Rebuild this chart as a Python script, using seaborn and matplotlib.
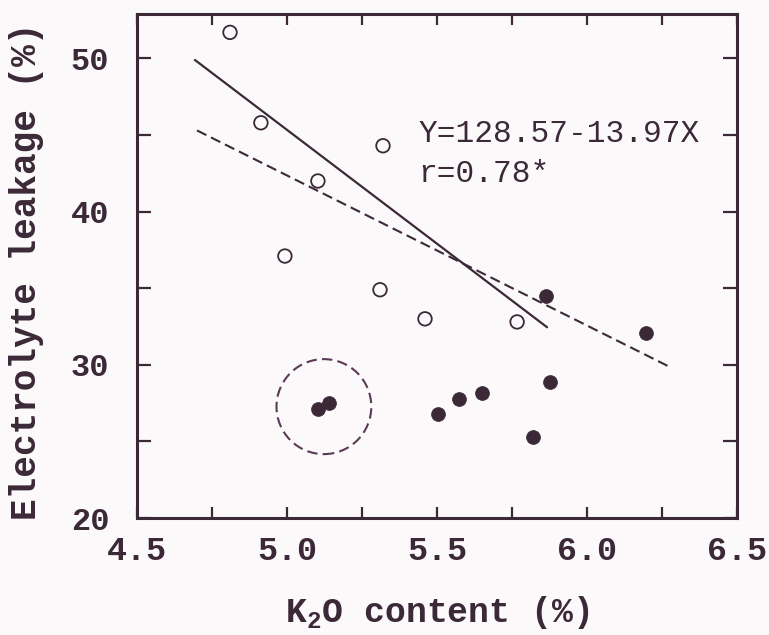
import numpy as np
import pandas as pd
import seaborn as sns
import matplotlib.pyplot as plt
from matplotlib.patches import Ellipse
from matplotlib.ticker import MultipleLocator

# --- veri ---
open_k2o = [4.81, 4.913, 5.103, 5.32, 4.993, 5.31, 5.46, 5.767]
open_leak = [51.7, 45.8, 42.0, 44.3, 37.1, 34.9, 33.0, 32.8]

filled_k2o = [5.863, 6.197, 5.877, 5.65, 5.573, 5.503, 5.82, 5.103, 5.14]
filled_leak = [34.5, 32.1, 28.9, 28.15, 27.75, 26.8, 25.3, 27.1, 27.5]

# regresyon çizgilerinin uç noktaları
solid_x = [4.693, 5.867]
solid_y = [49.9, 32.45]
dashed_x = [4.70, 6.277]
dashed_y = [45.3, 29.85]

# kesikli daire: merkez ve yarıçaplar (veri biriminde)
circle_center = (5.123, 27.27)
circle_rx = 0.158
circle_ry = 3.10

equation_text = "Y=128.57-13.97X"
r_text = "r=0.78*"

ink = "#3b2937"
bg = "#fcf9fb"

sns.set_style("ticks")
plt.rcParams['font.family'] = ['Liberation Mono', 'DejaVu Sans Mono']
plt.rcParams['mathtext.fontset'] = 'custom'
plt.rcParams['mathtext.rm'] = 'Liberation Mono'
plt.rcParams['mathtext.bf'] = 'Liberation Mono:bold'
plt.rcParams['text.color'] = ink
plt.rcParams['axes.labelcolor'] = ink
plt.rcParams['xtick.color'] = ink
plt.rcParams['ytick.color'] = ink

fig = plt.figure(figsize=(7.69, 6.35), dpi=100, facecolor=bg)
ax = fig.add_axes([137 / 769, 1 - 518 / 635, 600 / 769, 504 / 635])
ax.set_facecolor(bg)

df_open = pd.DataFrame({"x": open_k2o, "y": open_leak})
df_filled = pd.DataFrame({"x": filled_k2o, "y": filled_leak})

sns.lineplot(x=solid_x, y=solid_y, ax=ax, color=ink, lw=1.6, sort=False)
sns.lineplot(x=dashed_x, y=dashed_y, ax=ax, color=ink, lw=1.5, sort=False,
             linestyle=(0, (5, 2.5)))

sns.scatterplot(data=df_open, x="x", y="y", ax=ax, s=95, marker="o",
                facecolor="none", edgecolor=ink, linewidth=1.3, zorder=3)
sns.scatterplot(data=df_filled, x="x", y="y", ax=ax, s=100, marker="o",
                color=ink, edgecolor=ink, linewidth=0.5, zorder=3)

ax.add_patch(Ellipse(circle_center, 2 * circle_rx, 2 * circle_ry, fill=False,
                     edgecolor="#5a3b55", lw=1.5, linestyle=(0, (5, 2.5))))

ax.text(5.437, 44.55, equation_text, fontsize=22.5, color=ink, va="baseline")
ax.text(5.437, 41.95, r_text, fontsize=22.5, color=ink, va="baseline")

ax.set_xlim(4.5, 6.5)
ax.set_ylim(20, 52.9)
ax.xaxis.set_major_locator(MultipleLocator(0.5))
ax.xaxis.set_minor_locator(MultipleLocator(0.25))
ax.yaxis.set_major_locator(MultipleLocator(10))
ax.yaxis.set_minor_locator(MultipleLocator(5))
ax.xaxis.set_major_formatter(plt.FormatStrFormatter("%.1f"))

for side in ax.spines.values():
    side.set_linewidth(2.2)
    side.set_color(ink)

ax.tick_params(axis="both", which="both", direction="in", top=True, right=True,
               width=1.6, color=ink)
ax.tick_params(axis="x", which="both", length=8, pad=13)
ax.tick_params(axis="y", which="both", length=10, pad=20)
for lab in ax.get_xticklabels():
    lab.set_fontsize(24)
    lab.set_fontweight("bold")
for lab in ax.get_yticklabels():
    lab.set_fontsize(23)
    lab.set_fontweight("bold")

ax.set_xlabel("K$_\\mathbf{2}$O content (%)", fontsize=25, fontweight="bold")
ax.set_ylabel("Electrolyte leakage (%)", fontsize=26, fontweight="bold")
ax.xaxis.set_label_coords(0.5, -0.15)
ax.yaxis.set_label_coords(-0.155, 0.49)

fig.savefig("out.png", dpi=100, facecolor=bg)
